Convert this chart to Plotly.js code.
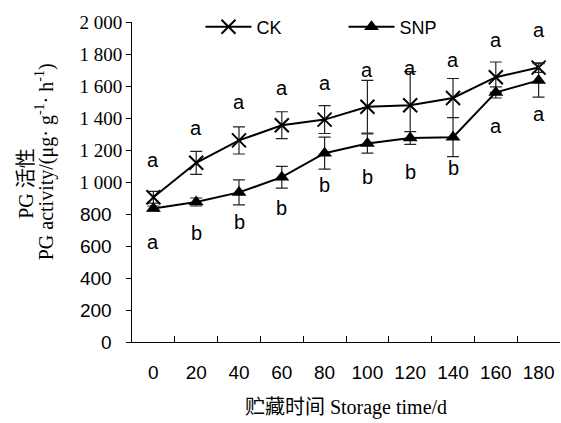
<!DOCTYPE html>
<html>
<head>
<meta charset="utf-8">
<script src="https://cdn.plot.ly/plotly-3.0.1.min.js"></script>
<style>html,body{margin:0;padding:0;background:#fff;}#chart{width:561px;height:423px;}</style>
</head>
<body>
<div id="chart"></div>
<script>
// ---- data ----
const days = ['0','20','40','60','80','100','120','140','160','180'];
const ckValues  = [905, 1120, 1260, 1355, 1390, 1470, 1480, 1525, 1655, 1715];
const ckErrors  = [37, 72, 85, 84, 87, 165, 210, 122, 95, 30];
const snpValues = [835, 875, 935, 1030, 1180, 1240, 1275, 1280, 1560, 1635];
const snpErrors = [15, 25, 78, 68, 100, 60, 40, 122, 35, 105];
const ckLetters  = ['a','a','a','a','a','a','a','a','a','a'];
const snpLetters = ['a','b','b','b','b','b','b','b','a','a'];
const ckLetterY  = [1138, 1338, 1500, 1588, 1619, 1700, 1713, 1763, 1888, 1950];
const snpLetterY = [625, 681, 750, 838, 981, 1031, 1063, 1088, 1350, 1425];
const yTickVals = [0,200,400,600,800,1000,1200,1400,1600,1800,2000];
const yTickText = ['0','200','400','600','800','1 000','1 200','1 400','1 600','1 800','2 000'];
const yTitleLines = ['PG 活性', 'PG activity/(μg· g<sup>-1</sup>· h<sup>-1</sup>)'];
const xTitle = '贮藏时间 Storage time/d';

const serif = 'Liberation Serif, Times New Roman, Noto Sans CJK SC, serif';
const sans = 'Liberation Sans, Arial, sans-serif';

const tickText = yTickText.map(t => t.indexOf(' ') >= 0
  ? '<span style="font-family:' + serif + '">' + t + '</span>'
  : t + '\u00a0\u00a0');

const traces = [
  {
    name: 'CK', x: days, y: ckValues, type: 'scatter', mode: 'lines+markers',
    line: {color: '#000', width: 2},
    marker: {symbol: 'x-thin', size: 14, color: '#000', line: {color: '#000', width: 2}},
    error_y: {type: 'data', array: ckErrors, visible: true, color: '#222', thickness: 1.2, width: 6}
  },
  {
    name: 'SNP', x: days, y: snpValues, type: 'scatter', mode: 'lines+markers',
    line: {color: '#000', width: 2},
    marker: {symbol: 'triangle-up', size: 13, color: '#000'},
    error_y: {type: 'data', array: snpErrors, visible: true, color: '#222', thickness: 1.2, width: 6}
  }
];

const annotations = [];
days.forEach((d, i) => {
  annotations.push({x: i, y: ckLetterY[i], xref: 'x', yref: 'y', text: ckLetters[i], showarrow: false,
    font: {family: sans, size: 20, color: '#000'}});
  annotations.push({x: i, y: snpLetterY[i], xref: 'x', yref: 'y', text: snpLetters[i], showarrow: false,
    font: {family: sans, size: 20, color: '#000'}});
});
// two-line y-axis title, drawn as rotated text lines with tight line spacing
annotations.push({xref: 'paper', yref: 'paper', x: -0.248, y: 0.497, textangle: -90,
  text: yTitleLines[0], showarrow: false, xanchor: 'center', yanchor: 'middle',
  font: {family: serif, size: 20, color: '#000'}});
annotations.push({xref: 'paper', yref: 'paper', x: -0.205, y: 0.5625, textangle: -90,
  text: yTitleLines[1], showarrow: false, xanchor: 'center', yanchor: 'middle',
  font: {family: serif, size: 20, color: '#000'}});

const layout = {
  width: 561, height: 423,
  margin: {l: 132, r: 1, t: 22, b: 81, pad: 0},
  paper_bgcolor: '#fff', plot_bgcolor: '#fff',
  showlegend: true,
  legend: {orientation: 'h', x: 0.16, y: 0.984, xanchor: 'left', yanchor: 'middle',
    font: {family: sans, size: 18, color: '#000'}, bgcolor: 'rgba(0,0,0,0)',
    itemwidth: 46, entrywidth: 82, entrywidthmode: 'pixels'},
  xaxis: {
    type: 'category', range: [-0.5, 9.5], tickson: 'boundaries',
    ticks: 'inside', ticklen: 6, tickwidth: 1, tickcolor: '#000',
    showline: true, linecolor: '#000', linewidth: 1,
    showgrid: false, zeroline: false,
    tickfont: {family: sans, size: 19, color: '#000'},
    ticklabelstandoff: 13,
    title: {text: xTitle, font: {family: serif, size: 20, color: '#000'}, standoff: 18}
  },
  yaxis: {
    range: [0, 2000], tickmode: 'array', tickvals: yTickVals, ticktext: tickText,
    ticks: 'outside', ticklen: 5, tickwidth: 1, tickcolor: '#000',
    showline: true, linecolor: '#000', linewidth: 1,
    showgrid: false, zeroline: false,
    tickfont: {family: sans, size: 19, color: '#000'}
  },
  annotations: annotations
};

Plotly.newPlot('chart', traces, layout, {displayModeBar: false, staticPlot: true});
</script>
</body>
</html>
